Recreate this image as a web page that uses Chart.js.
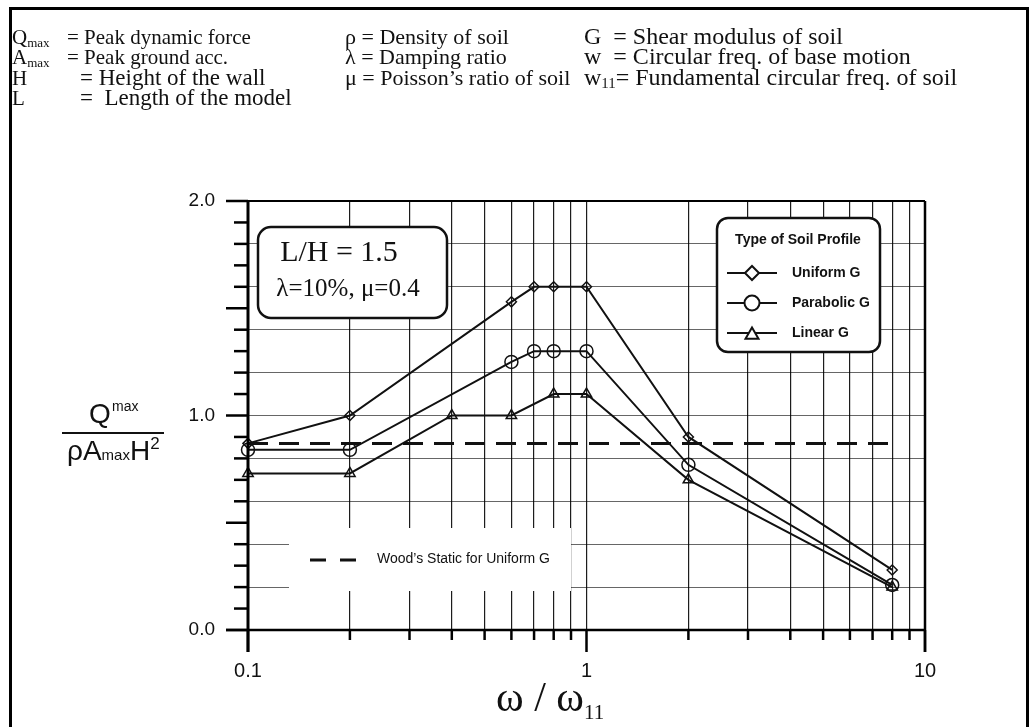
<!DOCTYPE html>
<html>
<head>
<meta charset="utf-8">
<script src="https://cdn.jsdelivr.net/npm/chart.js"></script>
<style>
  html, body { margin: 0; padding: 0; background: #fff; }
  #wrap { position: relative; width: 1031px; height: 727px; overflow: hidden; background: #fff; }
  #chart { position: absolute; left: 0; top: 0; }
  .frame { position: absolute; left: 9px; top: 7px; width: 1020px; height: 760px; border: 3px solid #000; box-sizing: border-box; }
  .t { position: absolute; white-space: nowrap; line-height: 1; color: #111; }
  .serif { font-family: 'Liberation Serif', 'Times New Roman', serif; font-size: 21px; }
  .serif .sb { font-size: 0.62em; position: relative; top: 0.2em; }
  .c2 { font-size: 22px; }
  .c3 { font-size: 24px; }
  .sans { font-family: 'Liberation Sans', Arial, sans-serif; }
</style>
</head>
<body>
<div id="wrap">
  <canvas id="chart" width="1031" height="727"></canvas>
  <div class="frame"></div>

  <!-- symbol definitions -->
  <span class="t serif" style="left:12px;top:27px">Q<span class="sb">max</span></span>
  <span class="t serif" style="left:67px;top:27px">= Peak dynamic force</span>
  <span class="t serif" style="left:12px;top:47px">A<span class="sb">max</span></span>
  <span class="t serif" style="left:67px;top:47px">= Peak ground acc.</span>
  <span class="t serif" style="left:12px;top:68px">H</span>
  <span class="t serif" style="left:80px;top:66px;font-size:23px">= Height of the wall</span>
  <span class="t serif" style="left:12px;top:88px">L</span>
  <span class="t serif" style="left:80px;top:86px;font-size:23px">=&nbsp; Length of the model</span>

  <span class="t serif c2" style="left:345px;top:26px">ρ = Density of soil</span>
  <span class="t serif c2" style="left:345px;top:46px">λ = Damping ratio</span>
  <span class="t serif c2" style="left:345px;top:67px">μ = Poisson’s ratio of soil</span>

  <span class="t serif c3" style="left:584px;top:24px">G&nbsp; = Shear modulus of soil</span>
  <span class="t serif c3" style="left:584px;top:44px">w&nbsp; = Circular freq. of base motion</span>
  <span class="t serif c3" style="left:584px;top:65px">w<span class="sb">11</span>= Fundamental circular freq. of soil</span>

  <!-- y axis quantity -->
  <span class="t sans" style="left:89px;top:400px;font-size:28px">Q</span>
  <span class="t sans" style="left:112px;top:399px;font-size:14px">max</span>
  <div style="position:absolute;left:62px;top:432px;width:102px;height:2px;background:#111"></div>
  <span class="t sans" style="left:67px;top:437px;font-size:28px">ρA<span style="font-size:15px">max</span>H<span style="font-size:17px;position:relative;top:-11px">2</span></span>

  <!-- x axis quantity -->
  <span class="t" style="left:496px;top:676px;font-family:'Liberation Serif',serif;font-size:42px">ω / ω<span style="font-size:21px;position:relative;top:8px">11</span></span>
</div>

<script>
// frequency ratio w/w11 and peak force ratio for each soil profile
const freqUniform = [0.1, 0.2, 0.6, 0.7, 0.8, 1.0, 2, 8];
const uniformG = [0.87, 1.0, 1.53, 1.6, 1.6, 1.6, 0.9, 0.28];

const freqParabolic = [0.1, 0.2, 0.6, 0.7, 0.8, 1.0, 2, 8];
const parabolicG = [0.84, 0.84, 1.25, 1.3, 1.3, 1.3, 0.77, 0.21];

const freqLinear = [0.1, 0.2, 0.4, 0.6, 0.8, 1.0, 2, 8];
const linearG = [0.73, 0.73, 1.0, 1.0, 1.1, 1.1, 0.7, 0.2];

// Wood's static solution, uniform G
const freqWood = [0.1, 8];
const woodStatic = [0.87, 0.87];

const seriesNames = ['Uniform G', 'Parabolic G', 'Linear G'];

// grid / tick positions
const xGridValues = [0.1, 0.2, 0.3, 0.4, 0.5, 0.6, 0.7, 0.8, 0.9, 1, 2, 3, 4, 5, 6, 7, 8, 9, 10];
const xTickLabels = ['0.1', '1', '10'];
const yGridValues = [0, 0.1, 0.2, 0.3, 0.4, 0.5, 0.6, 0.7, 0.8, 0.9, 1.0, 1.1, 1.2, 1.3, 1.4, 1.5, 1.6, 1.7, 1.8, 1.9, 2.0];
const yTickLabels = ['0.0', '0.5', '1.0', '1.5', '2.0'];

const pts = (xs, ys) => xs.map((v, i) => ({ x: v, y: ys[i] }));
const isMajorY = v => Math.round(v * 10) % 5 === 0;
const isMajorX = v => xTickLabels.includes(String(v));

const SANS = "'Liberation Sans', Arial, sans-serif";
const SERIF = "'Liberation Serif', 'Times New Roman', serif";

function roundBox(ctx, x, y, w, h, r) {
  ctx.beginPath();
  ctx.roundRect(x, y, w, h, r);
  ctx.fillStyle = '#fff';
  ctx.fill();
  ctx.lineWidth = 2.5;
  ctx.strokeStyle = '#111';
  ctx.stroke();
}

const decorations = {
  id: 'decorations',
  beforeDatasetsDraw(chart) {
    const { ctx, chartArea: a } = chart;
    ctx.save();

    // L/H note
    roundBox(ctx, a.left + 10, a.top + 26, 189, 91, 13);
    ctx.fillStyle = '#111';
    ctx.textAlign = 'center';
    ctx.textBaseline = 'middle';
    ctx.font = '30px ' + SERIF;
    ctx.fillText('L/H = 1.5', a.left + 91, a.top + 52);
    ctx.font = '25px ' + SERIF;
    ctx.fillText('λ=10%, μ=0.4', a.left + 100, a.top + 88);

    // soil profile key
    const kx = a.left + 469, ky = a.top + 17;
    roundBox(ctx, kx, ky, 163, 134, 11);
    ctx.fillStyle = '#111';
    ctx.font = 'bold 14px ' + SANS;
    ctx.fillText('Type of Soil Profile', kx + 81, ky + 22);
    const styles = ['rectRot', 'circle', 'triangle'];
    const radii = [7, 7.5, 7.5];
    seriesNames.forEach((name, i) => {
      const yy = ky + 55 + i * 30;
      ctx.strokeStyle = '#111';
      ctx.lineWidth = 2;
      ctx.beginPath();
      ctx.moveTo(kx + 10, yy);
      ctx.lineTo(kx + 60, yy);
      ctx.stroke();
      ctx.fillStyle = '#fff';
      Chart.helpers.drawPoint(ctx, { pointStyle: styles[i], radius: radii[i], rotation: 0, borderWidth: 2 }, kx + 35, yy + (i === 2 ? 2 : 0));
      ctx.fillStyle = '#111';
      ctx.textAlign = 'left';
      ctx.font = 'bold 14px ' + SANS;
      ctx.fillText(name, kx + 75, yy);
    });

    // Wood's static key, on a blank panel
    ctx.fillStyle = '#fff';
    ctx.fillRect(a.left + 41, a.top + 327, 282, 63);
    ctx.strokeStyle = '#111';
    ctx.lineWidth = 3;
    ctx.setLineDash([16, 14]);
    ctx.beginPath();
    ctx.moveTo(a.left + 62, a.top + 359);
    ctx.lineTo(a.left + 110, a.top + 359);
    ctx.stroke();
    ctx.setLineDash([]);
    ctx.fillStyle = '#111';
    ctx.textAlign = 'left';
    ctx.font = '14px ' + SANS;
    ctx.fillText('Wood\u2019s Static for Uniform G', a.left + 129, a.top + 358);
    ctx.restore();
  },
  afterDraw(chart) {
    const { ctx, chartArea: a, scales: { x, y } } = chart;
    ctx.save();
    ctx.strokeStyle = '#000';
    ctx.lineCap = 'butt';
    const line = (x1, y1, x2, y2, w) => {
      ctx.lineWidth = w;
      ctx.beginPath();
      ctx.moveTo(x1, y1);
      ctx.lineTo(x2, y2);
      ctx.stroke();
    };
    // frame of the plot
    line(a.left, a.top, a.left, a.bottom + 22, 3);
    line(a.left - 22, a.bottom, a.right, a.bottom, 2.5);
    line(a.left - 22, a.top, a.right, a.top, 2);
    line(a.right, a.top, a.right, a.bottom + 22, 2.5);
    // y ticks
    yGridValues.forEach(v => {
      const py = y.getPixelForValue(v);
      line(a.left - (isMajorY(v) ? 22 : 14), py, a.left, py, 2.5);
    });
    // x ticks
    xGridValues.forEach(v => {
      const px = x.getPixelForValue(v);
      line(px, a.bottom, px, a.bottom + (isMajorX(v) ? 22 : 10), 2.5);
    });
    ctx.restore();
  }
};

new Chart(document.getElementById('chart'), {
  type: 'scatter',
  data: {
    datasets: [
      {
        label: seriesNames[0], data: pts(freqUniform, uniformG), showLine: true,
        pointStyle: 'rectRot', pointRadius: 5, borderColor: '#111', borderWidth: 2,
        pointBorderWidth: 1.5, pointBackgroundColor: 'rgba(0,0,0,0)', clip: false
      },
      {
        label: seriesNames[1], data: pts(freqParabolic, parabolicG), showLine: true,
        pointStyle: 'circle', pointRadius: 6.5, borderColor: '#111', borderWidth: 2,
        pointBorderWidth: 1.5, pointBackgroundColor: 'rgba(0,0,0,0)', clip: false
      },
      {
        label: seriesNames[2], data: pts(freqLinear, linearG), showLine: true,
        pointStyle: 'triangle', pointRadius: 6, borderColor: '#111', borderWidth: 2,
        pointBorderWidth: 1.5, pointBackgroundColor: 'rgba(0,0,0,0)', clip: false
      },
      {
        label: 'Wood\u2019s Static for Uniform G', data: pts(freqWood, woodStatic), showLine: true,
        pointRadius: 0, borderColor: '#111', borderWidth: 3, borderDash: [20, 11]
      }
    ]
  },
  options: {
    responsive: false,
    animation: false,
    devicePixelRatio: 1,
    layout: { padding: { left: 0, top: 201, right: 106, bottom: 0 } },
    plugins: { legend: { display: false }, tooltip: { enabled: false } },
    scales: {
      x: {
        type: 'logarithmic',
        min: 0.1,
        max: 10,
        afterBuildTicks: s => { s.ticks = xGridValues.map(v => ({ value: v })); },
        afterFit: s => { s.height = 97; },
        border: { display: false },
        grid: {
          drawTicks: false,
          lineWidth: 1.2,
          color: c => (c.tick && (c.tick.value === 0.1 || c.tick.value === 10)) ? 'rgba(0,0,0,0)' : '#1c1c1c'
        },
        ticks: {
          autoSkip: false,
          maxRotation: 0,
          padding: 29,
          color: '#111',
          font: { family: SANS, size: 20 },
          callback: v => isMajorX(v) ? String(v) : ''
        }
      },
      y: {
        min: 0,
        max: 2,
        afterBuildTicks: s => { s.ticks = yGridValues.map(v => ({ value: v })); },
        afterFit: s => { s.width = 248; },
        border: { display: false },
        grid: {
          drawTicks: false,
          lineWidth: 1,
          color: c => (c.tick && (c.tick.value === 0 || c.tick.value === 2)) ? 'rgba(0,0,0,0)' : 'rgba(0,0,0,0.6)'
        },
        ticks: {
          padding: 33,
          color: '#111',
          font: { family: SANS, size: 19 },
          callback: v => isMajorY(v) ? yTickLabels[Math.round(v * 2)] : ''
        }
      }
    }
  },
  plugins: [decorations]
});
</script>
</body>
</html>
